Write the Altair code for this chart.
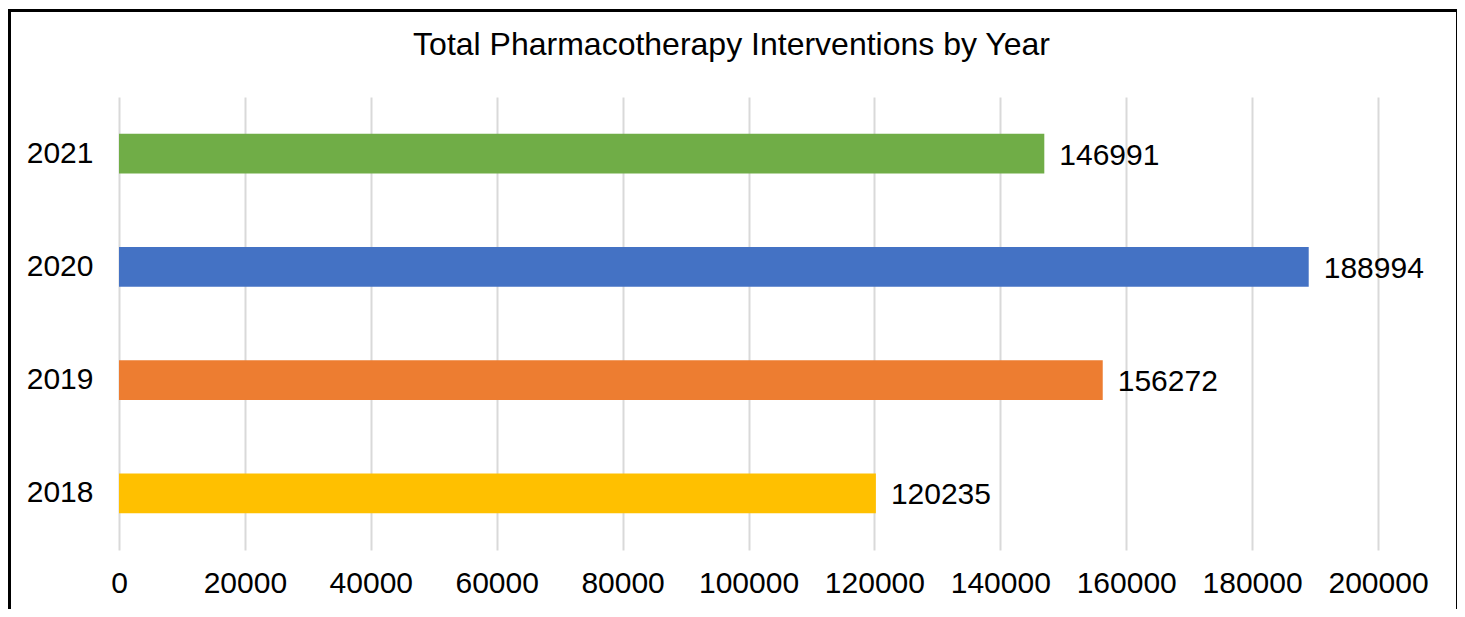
import altair as alt
import pandas as pd

years = ["2021", "2020", "2019", "2018"]
values = [146991, 188994, 156272, 120235]
colors = ["#70AD47", "#4472C4", "#ED7D31", "#FFC000"]
x_ticks = [0, 20000, 40000, 60000, 80000, 100000, 120000, 140000, 160000, 180000, 200000]
title_text = "Total Pharmacotherapy Interventions by Year"

df = pd.DataFrame({"year": years, "value": values, "color": colors})

FONT = "Liberation Sans"

y_enc = alt.Y(
    "year:N",
    sort=years,
    title=None,
    scale=alt.Scale(paddingInner=0.647, paddingOuter=0.3235),
    axis=alt.Axis(labelFontSize=30, labelFont=FONT, labelColor="black",
                  ticks=False, domain=False, labelPadding=26, grid=False),
)
x_enc = alt.X(
    "value:Q",
    title=None,
    scale=alt.Scale(domain=[0, 200000], nice=False),
    axis=alt.Axis(values=x_ticks, format="d", labelFontSize=30, labelFont=FONT,
                  labelColor="black", ticks=False, domain=False, labelPadding=18,
                  labelOverlap=False, labelFlush=False,
                  grid=True, gridColor="#D9D9D9", gridWidth=2),
)

bars = alt.Chart(df).mark_bar().encode(
    x=x_enc,
    y=y_enc,
    color=alt.Color("color:N", scale=None),
)

labels = alt.Chart(df).mark_text(
    align="left", baseline="middle", dx=15, dy=2, fontSize=30, font=FONT, color="black"
).encode(
    x=alt.X("value:Q"),
    y=alt.Y("year:N", sort=years),
    text=alt.Text("value:Q", format="d"),
)

frame = alt.Chart(pd.DataFrame({"a": [0]})).mark_rect(
    fillOpacity=0, stroke="black", strokeWidth=3
).encode(
    x=alt.value(-109.5),
    x2=alt.value(1338.5),
    y=alt.value(-86.5),
    y2=alt.value(560),
)

title = alt.Chart(pd.DataFrame({"t": [title_text]})).mark_text(
    align="center", baseline="alphabetic", fontSize=32, font=FONT, color="black"
).encode(
    x=alt.value(612.5),
    y=alt.value(-42),
    text="t:N",
)

chart = alt.layer(bars, labels, frame, title).properties(
    width=1259,
    height=453,
    autosize=alt.AutoSizeParams(type="none"),
    padding={"left": 111, "top": 89, "right": 79, "bottom": 59},
).configure_view(stroke=None)

chart.save("out.html", embed_options={"renderer": "svg", "actions": False})
